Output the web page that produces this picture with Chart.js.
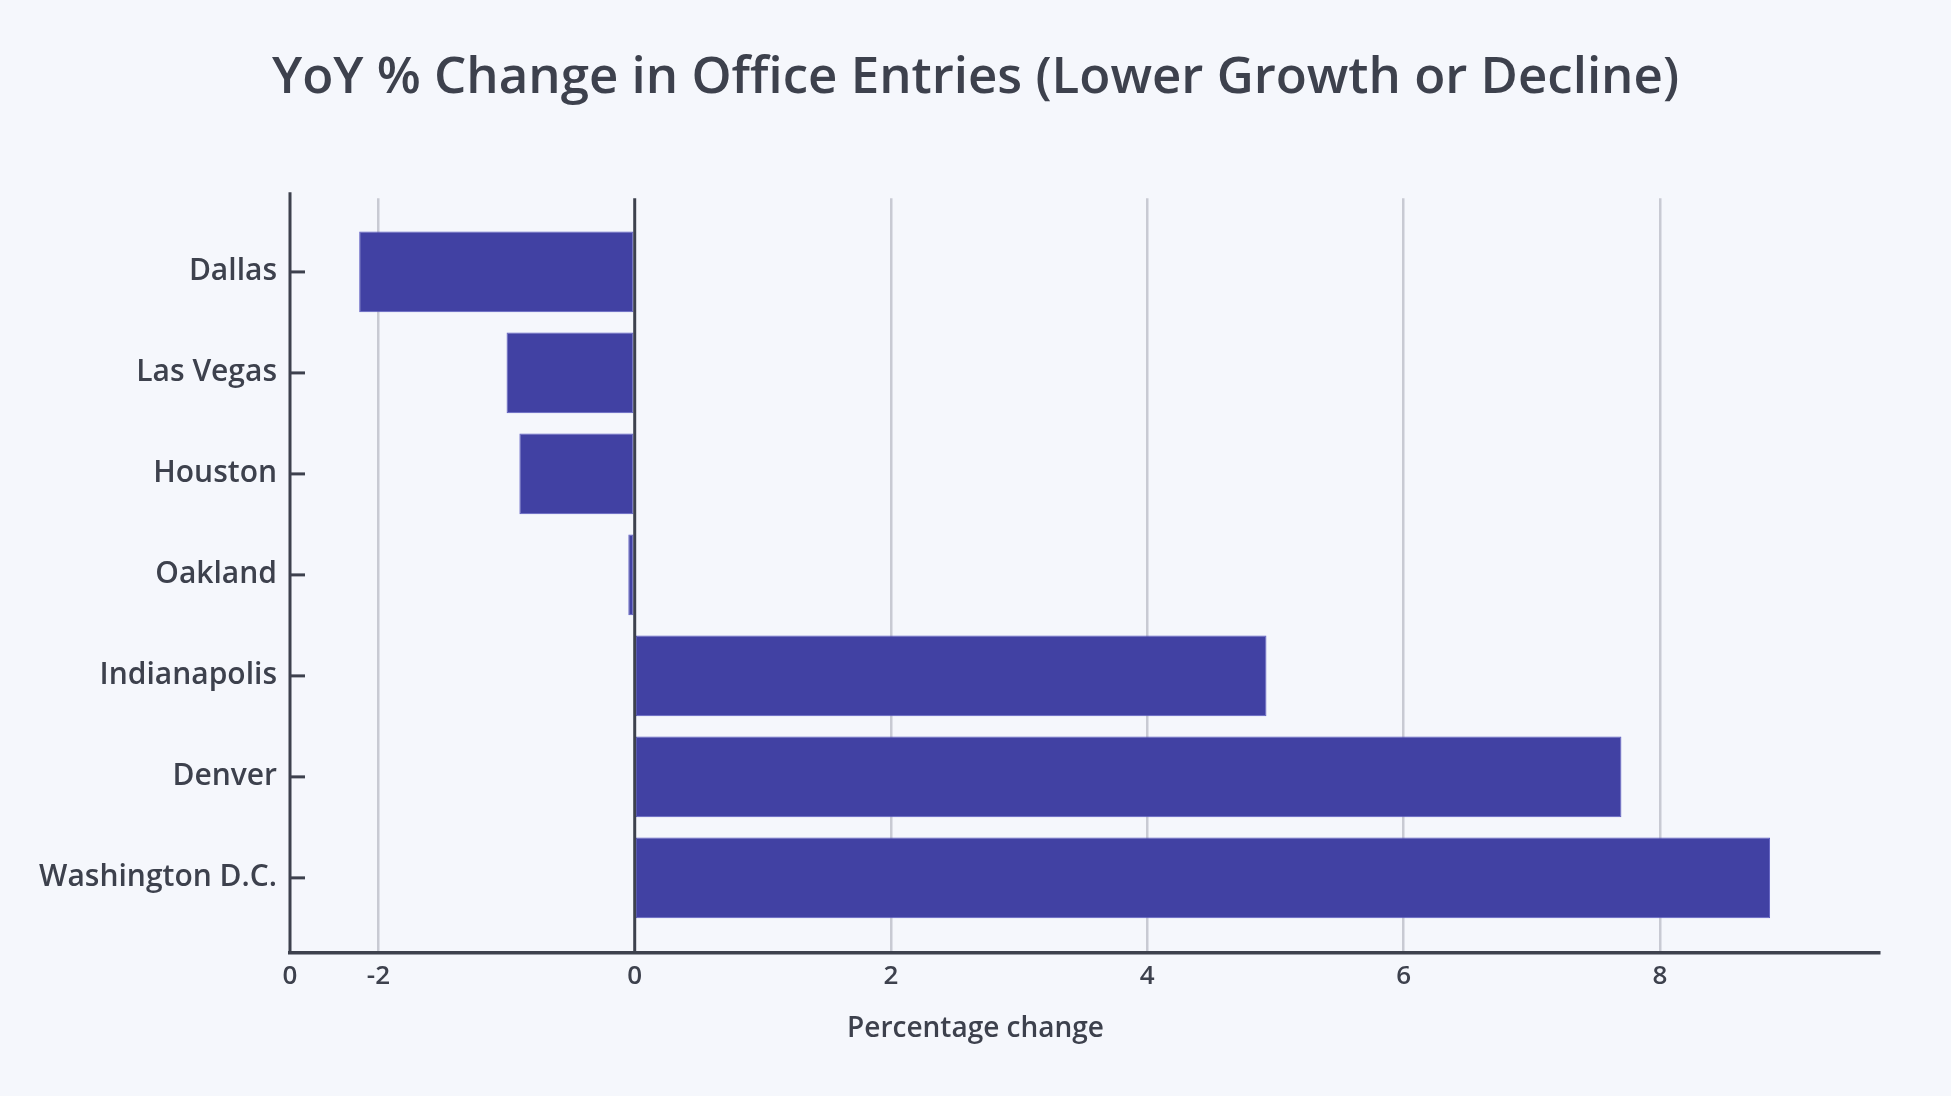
<!DOCTYPE html>
<html>
<head>
<meta charset="utf-8">
<title>YoY % Change in Office Entries</title>
<script src="https://cdn.jsdelivr.net/npm/chart.js@4.4.1/dist/chart.umd.min.js"></script>
<style>
  html, body { margin: 0; padding: 0; background: #f5f7fc; }
  #wrap { width: 1951px; height: 1096px; }
</style>
</head>
<body>
<div id="wrap"><canvas id="chart"></canvas></div>
<script>
// data
const cities = ['Dallas', 'Las Vegas', 'Houston', 'Oakland', 'Indianapolis', 'Denver', 'Washington D.C.'];
const yoyChange = [-2.15, -1.00, -0.90, -0.05, 4.93, 7.70, 8.86];

// x axis range and ticks (the left edge carries a stray "0" label in the original)
const X_MIN = -2.69;
const X_MAX = 9.71;
const xTickValues = [X_MIN, -2, 0, 2, 4, 6, 8];
const xTickLabels = ['0', '-2', '0', '2', '4', '6', '8'];

const ink = '#3d414d';
const gridGrey = '#c8cad3';
const barColor = '#4141a3';
const fontFamily = "'Open Sans', 'Noto Sans', sans-serif";

// left spine, inward y ticks and the zero line drawn above the bars
const axisDecor = {
    id: 'axisDecor',
    afterDatasetsDraw(chart) {
        const { ctx, chartArea, scales } = chart;
        const zx = scales.x.getPixelForValue(0);
        ctx.save();
        ctx.strokeStyle = ink;
        ctx.lineWidth = 3;
        ctx.beginPath();
        ctx.moveTo(zx, chartArea.top);
        ctx.lineTo(zx, chartArea.bottom);
        ctx.stroke();

        ctx.beginPath();
        ctx.moveTo(chartArea.left, chartArea.top - 6);
        ctx.lineTo(chartArea.left, chartArea.bottom);
        ctx.stroke();

        scales.y.ticks.forEach((t) => {
            const py = scales.y.getPixelForValue(t.value);
            ctx.beginPath();
            ctx.moveTo(chartArea.left, py);
            ctx.lineTo(chartArea.left + 15, py);
            ctx.stroke();
        });
        ctx.restore();
    }
};

new Chart(document.getElementById('chart'), {
    type: 'bar',
    data: {
        datasets: [{
            data: cities.map((c, i) => ({ x: yoyChange[i], y: i })),
            backgroundColor: barColor,
            borderColor: '#5d5dc2',
            borderWidth: 1,
            borderSkipped: false,
            barPercentage: 1.0,
            categoryPercentage: 0.8
        }]
    },
    options: {
        indexAxis: 'y',
        responsive: true,
        maintainAspectRatio: false,
        animation: false,
        layout: { padding: 0 },
        plugins: {
            legend: { display: false },
            tooltip: { enabled: false },
            title: {
                display: true,
                text: 'YoY % Change in Office Entries (Lower Growth or Decline)',
                color: ink,
                font: { family: fontFamily, size: 51, weight: '600' },
                padding: { top: 48, bottom: 89 }
            },
            subtitle: {
                display: true,
                position: 'bottom',
                text: 'Percentage change',
                color: ink,
                font: { family: fontFamily, size: 28, weight: '600' },
                padding: { top: 12.6, bottom: 50 }
            }
        },
        scales: {
            x: {
                type: 'linear',
                min: X_MIN,
                max: X_MAX,
                afterBuildTicks: (scale) => {
                    scale.ticks = xTickValues.map(v => ({ value: v }));
                },
                grid: {
                    drawTicks: false,
                    lineWidth: 2.5,
                    color: (ctx) => {
                        const v = ctx.tick ? ctx.tick.value : null;
                        if (v === 0 || v === X_MIN) return 'rgba(0,0,0,0)';
                        return gridGrey;
                    }
                },
                border: { display: true, color: ink, width: 3.5 },
                ticks: {
                    color: ink,
                    padding: 8,
                    autoSkip: false,
                    maxRotation: 0,
                    font: { family: fontFamily, size: 26, weight: '600' },
                    callback: (value, index) => xTickLabels[index]
                }
            },
            y: {
                type: 'linear',
                reverse: true,
                offset: false,
                min: -0.73,
                max: 6.74,
                afterBuildTicks: (scale) => {
                    scale.ticks = cities.map((c, i) => ({ value: i }));
                },
                afterFit: (scale) => { scale.width = 290; },
                grid: { display: false, drawTicks: false, offset: false },
                border: { display: false },
                ticks: {
                    color: ink,
                    padding: 13,
                    autoSkip: false,
                    font: { family: fontFamily, size: 30, weight: '600' },
                    callback: (value) => cities[value]
                }
            },
            // empty spacer on the right so the titles stay centred on the page
            spacer: {
                type: 'linear',
                position: 'right',
                display: true,
                afterFit: (scale) => { scale.width = 72; },
                grid: { display: false, drawTicks: false },
                border: { display: false },
                ticks: { display: false }
            }
        }
    },
    plugins: [axisDecor]
});
</script>
</body>
</html>
